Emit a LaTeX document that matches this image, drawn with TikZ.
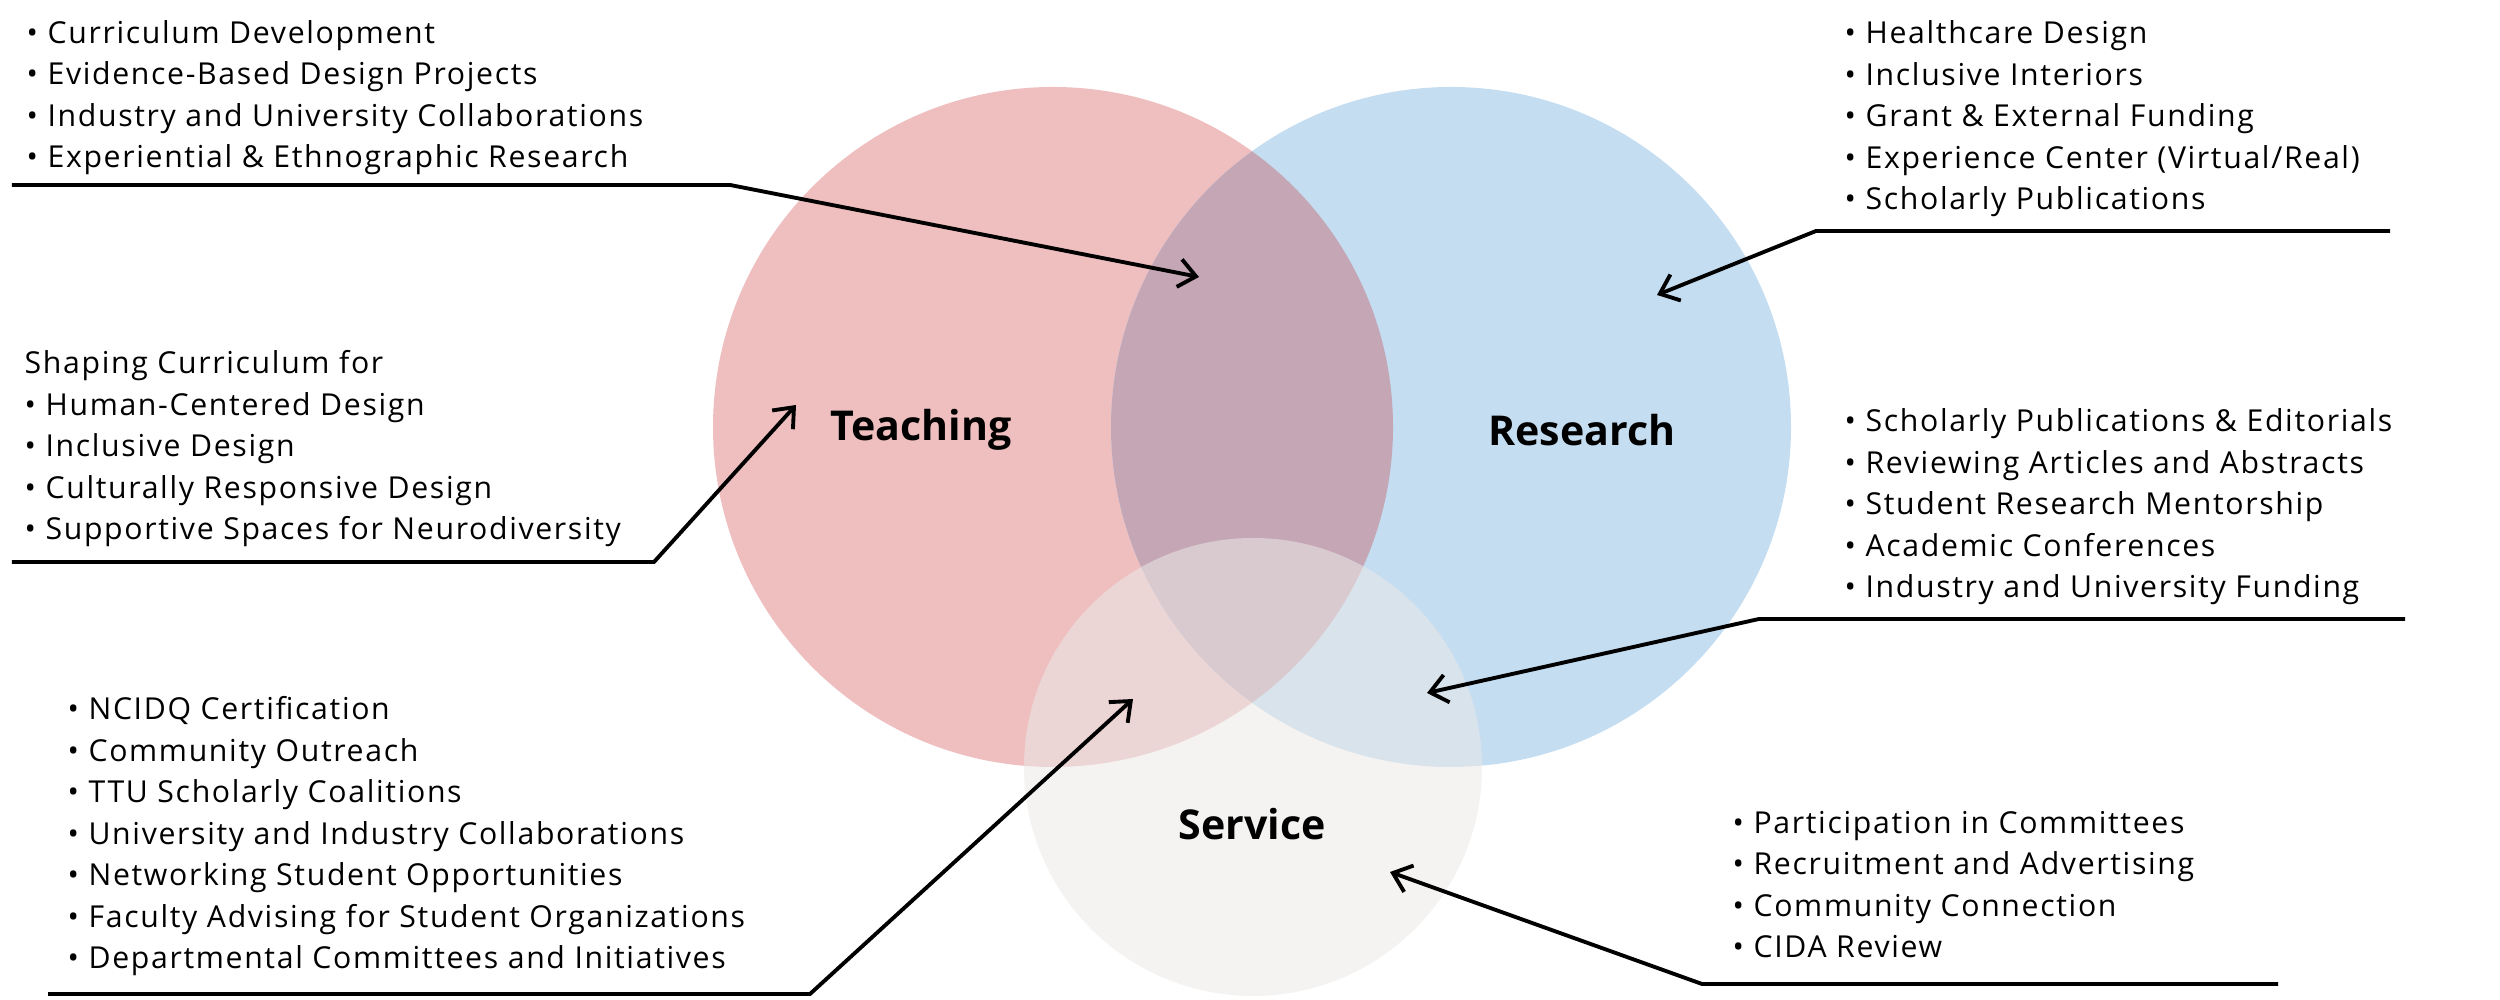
\documentclass[tikz,border=0pt]{standalone}
\usepackage{fontspec}
\setmainfont{Open Sans}
\newfontfamily\blurbfont{Open Sans}[LetterSpace=5.5]
\usetikzlibrary{arrows.meta,positioning}
\definecolor{teachred}{RGB}{239,191,192}
\definecolor{resblue}{RGB}{197,221,241}
\definecolor{bothmauve}{RGB}{196,166,180}
\definecolor{servgray}{RGB}{235,233,231}

\begin{document}
\begin{tikzpicture}[
    blurb/.style={anchor=base west,align=left,inner sep=0pt,
                  font=\blurbfont\fontsize{8.6}{11.83}\selectfont},
    title/.style={font=\fontsize{11.7}{14}\selectfont\bfseries},
    lead/.style={line width=1.1pt,-{Straight Barb[length=1.7mm,width=2.8mm]}},
  ]
  \useasboundingbox (0,0) rectangle (25,10);

  % the three circles
  \coordinate (tc) at (10.53,5.73);
  \coordinate (rc) at (14.51,5.73);
  \coordinate (sc) at (12.53,2.33);
  \fill[teachred] (tc) circle (3.40);
  \fill[resblue] (rc) circle (3.40);
  \begin{scope}
    \clip (tc) circle (3.40);
    \fill[bothmauve] (rc) circle (3.40);
  \end{scope}
  \fill[servgray,fill opacity=0.55] (sc) circle (2.29);

  \node[title] (teach) at (9.21,5.70) {Teaching};
  \node[title] (research) at (15.82,5.70) {Research};
  \node[title] (service) at (12.52,1.76) {Service};

  % text blocks (anchored on the last line)
  \node[blurb] (tl) at (0.26,8.32) {• Curriculum Development\\
    • Evidence-Based Design Projects\\
    • Industry and University Collaborations\\
    • Experiential \& Ethnographic Research};
  \node[blurb] (ml) at (0.24,4.60) {Shaping Curriculum for\\
    • Human-Centered Design\\
    • Inclusive Design\\
    • Culturally Responsive Design\\
    • Supportive Spaces for Neurodiversity};
  \node[blurb] (tr) at (18.44,7.90) {• Healthcare Design\\
    • Inclusive Interiors\\
    • Grant \& External Funding\\
    • Experience Center (Virtual/Real)\\
    • Scholarly Publications};
  \node[blurb] (mr) at (18.44,4.02) {• Scholarly Publications \& Editorials\\
    • Reviewing Articles and Abstracts\\
    • Student Research Mentorship\\
    • Academic Conferences\\
    • Industry and University Funding};
  \node[blurb] (bl) at (0.67,0.31) {• NCIDQ Certification\\
    • Community Outreach\\
    • TTU Scholarly Coalitions\\
    • University and Industry Collaborations\\
    • Networking Student Opportunities\\
    • Faculty Advising for Student Organizations\\
    • Departmental Committees and Initiatives};
  \node[blurb] (br) at (17.32,0.42) {• Participation in Committees\\
    • Recruitment and Advertising\\
    • Community Connection\\
    • CIDA Review};

  % underlines and pointers
  \coordinate (tl-a) at (0.12,8.15);  \coordinate (tl-b) at (7.30,8.15);
  \coordinate (tl-tip) at (11.99,7.23);
  \coordinate (ml-a) at (0.12,4.38);  \coordinate (ml-b) at (6.54,4.38);
  \coordinate (ml-tip) at (7.96,5.95);
  \coordinate (tr-a) at (23.90,7.69); \coordinate (tr-b) at (18.16,7.69);
  \coordinate (tr-tip) at (16.57,7.05);
  \coordinate (mr-a) at (24.05,3.81); \coordinate (mr-b) at (17.59,3.81);
  \coordinate (mr-tip) at (14.27,3.07);
  \coordinate (bl-a) at (0.48,0.06);  \coordinate (bl-b) at (8.10,0.06);
  \coordinate (bl-tip) at (11.33,3.01);
  \coordinate (br-a) at (22.78,0.16); \coordinate (br-b) at (17.02,0.16);
  \coordinate (br-tip) at (13.90,1.28);

  \draw[lead] (tl-a) -- (tl-b) -- (tl-tip);
  \draw[lead] (ml-a) -- (ml-b) -- (ml-tip);
  \draw[lead] (tr-a) -- (tr-b) -- (tr-tip);
  \draw[lead] (mr-a) -- (mr-b) -- (mr-tip);
  \draw[lead] (bl-a) -- (bl-b) -- (bl-tip);
  \draw[lead] (br-a) -- (br-b) -- (br-tip);
\end{tikzpicture}
\end{document}
